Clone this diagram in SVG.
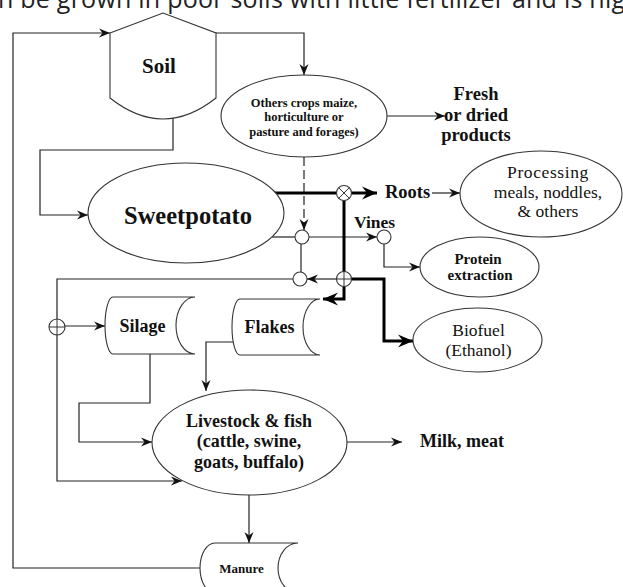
<svg xmlns="http://www.w3.org/2000/svg" width="623" height="587" viewBox="0 0 623 587">
<style>
.shape{fill:#fff;stroke:#333;stroke-width:1.1}
.ln{fill:none;stroke:#222;stroke-width:1.2}
.dash{stroke-dasharray:9,4}
.thick{fill:none;stroke:#000;stroke-width:3}
.j{fill:#fff;stroke:#333;stroke-width:1.1}
.jl{stroke:#333;stroke-width:1}
.t{font-family:"Liberation Serif","Times New Roman",serif;font-weight:bold;fill:#111;text-anchor:middle}
.r{font-weight:normal}
.st{text-anchor:start}
</style>
<defs>
<marker id="ah" markerUnits="userSpaceOnUse" markerWidth="12" markerHeight="10" refX="11" refY="5" orient="auto"><path d="M0,0.5 L11,5 L0,9.5 L3.5,5 Z" fill="#111"/></marker>
<marker id="ahb" markerUnits="userSpaceOnUse" markerWidth="16" markerHeight="14" refX="15" refY="7" orient="auto"><path d="M0,0.5 L15,7 L0,13.5 L5,7 Z" fill="#000"/></marker>
</defs>
<rect width="623" height="587" fill="#fff"/>
<text x="-2" y="8" font-family="'Open Sans','Noto Sans',sans-serif" font-size="25" fill="#222" textLength="627" lengthAdjust="spacing">n be grown in poor soils with little fertilizer and is hig</text>

<g id="connectors">
<path class="ln" d="M200,568 H13 V33 H110" marker-end="url(#ah)"/>
<path class="ln" d="M216,33 H304 V75" marker-end="url(#ah)"/>
<path class="ln" d="M173,118 V150 H40 V215 H88" marker-end="url(#ah)"/>
<path class="ln" d="M387,116 H445" marker-end="url(#ah)"/>
<path class="thick" d="M275,193 H336.5"/>
<path class="thick" d="M351.5,193 H377" marker-end="url(#ahb)"/>
<path class="ln" d="M432,193 H460" marker-end="url(#ah)"/>
<path class="ln dash" d="M304,157 V230" marker-end="url(#ah)"/>
<path class="ln" d="M272,237 H295"/>
<path class="ln" d="M309,237 H377" marker-end="url(#ah)"/>
<path class="thick" d="M344,200.5 V299 H323" marker-end="url(#ahb)"/>
<path class="thick" d="M351.5,279 H384 V341 H413" marker-end="url(#ahb)"/>
<path class="ln" d="M384,244 V267 H420" marker-end="url(#ah)"/>
<path class="ln" d="M301,244 V272"/>
<path class="ln" d="M336.5,279 H307" marker-end="url(#ah)"/>
<path class="ln" d="M293,279 H57 V481 H182" marker-end="url(#ah)"/>
<path class="ln" d="M65,326 H105" marker-end="url(#ah)"/>
<path class="ln" d="M150,354 V403 H79 V442 H152" marker-end="url(#ah)"/>
<path class="ln" d="M233,342 H206 V391" marker-end="url(#ah)"/>
<path class="ln" d="M347,442 H402" marker-end="url(#ah)"/>
<path class="ln" d="M249,495 V543" marker-end="url(#ah)"/>
</g>

<g id="junctions">
<g id="j-roots"><circle class="j" cx="344" cy="193" r="7.5"/><path class="jl" d="M338.7,187.7 L349.3,198.3 M349.3,187.7 L338.7,198.3"/></g>
<g id="j-biofuel"><circle class="j" cx="344" cy="279" r="7.5"/><path class="jl" d="M336.5,279 H351.5 M344,271.5 V286.5"/></g>
<g id="j-vines-split"><circle class="j" cx="302" cy="237" r="7"/></g>
<g id="j-merge"><circle class="j" cx="300" cy="279" r="7"/></g>
<g id="j-vines"><circle class="j" cx="384" cy="237" r="7"/></g>
<g id="j-left"><circle class="j" cx="57" cy="327" r="8"/><path class="jl" d="M49,327 H65 M57,319 V335"/></g>
</g>

<g id="soil">
<path class="shape" d="M110,33 L163,13 L216,33 L216,98 Q163,140 110,98 Z"/>
<text class="t" x="159" y="73" font-size="21">Soil</text>
</g>
<g id="others">
<ellipse class="shape" cx="304" cy="116" rx="83" ry="41"/>
<text class="t" x="304" y="107" font-size="12.5">Others crops maize,</text>
<text class="t" x="304" y="121" font-size="12.5">horticulture or</text>
<text class="t" x="304" y="136" font-size="12.5">pasture and forages)</text>
</g>
<g id="fresh">
<text class="t" x="476" y="100" font-size="18.5">Fresh</text>
<text class="t" x="476" y="121" font-size="18.5">or dried</text>
<text class="t" x="476" y="141" font-size="18.5">products</text>
</g>
<g id="sweetpotato">
<ellipse class="shape" cx="186" cy="213" rx="98" ry="50"/>
<text class="t" x="188" y="224" font-size="24.5">Sweetpotato</text>
</g>
<g id="roots"><text class="t st" x="385" y="198" font-size="18.5">Roots</text></g>
<g id="processing">
<ellipse class="shape" cx="541" cy="194" rx="81" ry="43"/>
<text class="t r" x="548" y="178" font-size="17.5" letter-spacing="0.6">Processing</text>
<text class="t r" x="548" y="198" font-size="17.5">meals, noddles,</text>
<text class="t r" x="548" y="217" font-size="17.5">&amp; others</text>
</g>
<g id="vines"><text class="t st" x="354" y="228" font-size="17.5">Vines</text></g>
<g id="protein">
<ellipse class="shape" cx="479.5" cy="267" rx="59.5" ry="30"/>
<text class="t" x="478" y="264" font-size="15">Protein</text>
<text class="t" x="480" y="280" font-size="15">extraction</text>
</g>
<g id="biofuel">
<ellipse class="shape" cx="477.5" cy="340" rx="64.5" ry="32"/>
<text class="t r" x="478.5" y="336" font-size="17.5">Biofuel</text>
<text class="t r" x="478.5" y="356" font-size="17.5">(Ethanol)</text>
</g>
<g id="silage">
<path class="shape" d="M113,297 H195 A19,28.5 0 0 0 195,354 H113 A8,28.5 0 0 1 113,297 Z"/>
<text class="t" x="142.5" y="332" font-size="18">Silage</text>
</g>
<g id="flakes">
<path class="shape" d="M240,299 H320 A17,28 0 0 0 320,355 H240 A8,28 0 0 1 240,299 Z"/>
<text class="t" x="269.5" y="333" font-size="18">Flakes</text>
</g>
<g id="livestock">
<ellipse class="shape" cx="249.5" cy="442.5" rx="97.5" ry="52.5"/>
<text class="t" x="249" y="427" font-size="18">Livestock &amp; fish</text>
<text class="t" x="249" y="447" font-size="18">(cattle, swine,</text>
<text class="t" x="249" y="468" font-size="18">goats, buffalo)</text>
</g>
<g id="milk"><text class="t st" x="420" y="447" font-size="18">Milk, meat</text></g>
<g id="manure">
<path class="shape" d="M215,543 H298 A20,25 0 0 0 298,593 H215 A15,25 0 0 1 215,543 Z"/>
<text class="t" x="241.5" y="573" font-size="13">Manure</text>
</g>
</svg>
